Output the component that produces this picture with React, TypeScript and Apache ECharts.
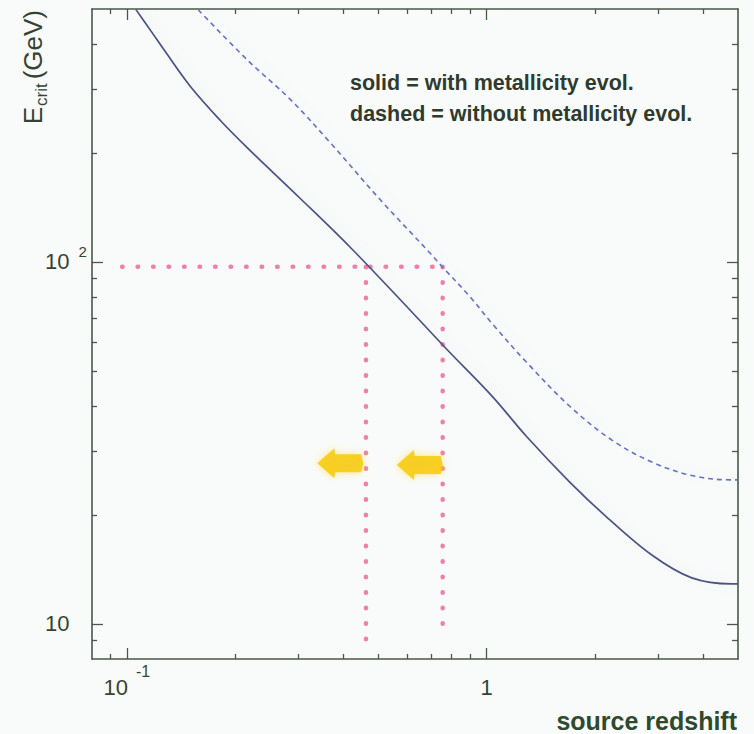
import React, { useEffect, useRef } from "react";
import * as echarts from "echarts";

// Axis ranges (log-log)
const X_MIN = 0.08;
const X_MAX = 5;
const Y_MIN = 8;
const Y_MAX = 500;

// Tick positions
const xMajorTicks = [0.1, 1];
const xMinorTicks = [0.09, 0.2, 0.3, 0.4, 0.5, 0.6, 0.7, 0.8, 0.9, 2, 3, 4];
const yMajorTicks = [10, 100];
const yMinorTicks = [9, 20, 30, 40, 50, 60, 70, 80, 90, 200, 300, 400];

// Critical energy vs source redshift, with metallicity evolution (solid)
const redshiftWith = [0.106, 0.117, 0.127, 0.15, 0.182, 0.216, 0.303, 0.417, 0.574, 0.775, 1.04, 1.29, 1.7, 2.15, 2.88, 3.72, 4.8, 5.0];
const ecritWith = [498, 433, 385, 306, 246, 207, 150, 110, 78.9, 57.4, 42.4, 33, 24.7, 19.8, 15.5, 13.4, 12.9, 12.9];

// Without metallicity evolution (dashed)
const redshiftWithout = [0.158, 0.216, 0.285, 0.367, 0.505, 0.695, 0.755, 0.897, 1.04, 1.29, 1.7, 2.23, 2.88, 3.72, 4.8, 5.0];
const ecritWithout = [497, 362, 281, 214, 149, 106, 96.7, 80.4, 67.3, 52.9, 40.0, 32.2, 28.0, 25.7, 25.0, 25.0];

// Dotted guide lines at E_crit ~ 100 GeV
const guideLevel = 97;
const guideStartZ = 0.097;
const guideZ = [0.462, 0.755];
const guideBottom = [8.65, 9.2];

// Arrow markers
const arrowZ = [0.392, 0.652];
const arrowE = [27.8, 27.5];

const FRAME = "#4a584a";
const TEXT = "#344434";
const FONT = "'Liberation Sans', Arial, Helvetica, sans-serif";

const zip = (xs: number[], ys: number[]) => xs.map((x, i) => [x, ys[i]]);

function xAxisDef(position: "top" | "bottom", ticks: number[], len: number, line: boolean, labels: boolean) {
  return {
    type: "log",
    logBase: 10,
    position,
    min: X_MIN,
    max: X_MAX,
    axisLine: { show: line, onZero: false, lineStyle: { color: FRAME, width: 1.6 } },
    axisTick: { show: true, inside: true, length: len, customValues: ticks, lineStyle: { color: FRAME, width: 1.3 } },
    axisLabel: labels
      ? {
          show: true,
          customValues: ticks,
          margin: 4,
          color: TEXT,
          fontFamily: FONT,
          formatter: (v: number) => {
            const p = Math.round(Math.log10(v));
            return p === 0 ? "{b|1}" : `{b|10}{sup|${p}}`;
          },
          rich: {
            b: { fontSize: 22, lineHeight: 22, padding: [27, 0, 0, 0], color: TEXT, fontFamily: FONT },
            sup: { fontSize: 16, lineHeight: 16, verticalAlign: "top", padding: [0, 0, 0, 8], color: TEXT, fontFamily: FONT },
          },
        }
      : { show: false },
    splitLine: { show: false },
    minorTick: { show: false },
  };
}

function yAxisDef(position: "left" | "right", ticks: number[], len: number, line: boolean, labels: boolean) {
  return {
    type: "log",
    logBase: 10,
    position,
    min: Y_MIN,
    max: Y_MAX,
    axisLine: { show: line, onZero: false, lineStyle: { color: FRAME, width: 1.6 } },
    axisTick: { show: true, inside: true, length: len, customValues: ticks, lineStyle: { color: FRAME, width: 1.3 } },
    axisLabel: labels
      ? {
          show: true,
          customValues: ticks,
          margin: 47,
          align: "left",
          color: TEXT,
          fontFamily: FONT,
          formatter: (v: number) => {
            const p = Math.round(Math.log10(v));
            return p === 1 ? "{b|10}" : `{b|10}{sup|${p}}`;
          },
          rich: {
            b: { fontSize: 22, lineHeight: 36, color: TEXT, fontFamily: FONT },
            sup: { fontSize: 15, lineHeight: 15, verticalAlign: "top", padding: [0, 0, 0, 9], color: TEXT, fontFamily: FONT },
          },
        }
      : { show: false },
    splitLine: { show: false },
    minorTick: { show: false },
  };
}

export default function App() {
  const ref = useRef<HTMLDivElement>(null);

  useEffect(() => {
    if (!ref.current) return;
    document.body.style.margin = "0";
    document.body.style.background = "#f9fbfb";
    const chart = echarts.init(ref.current, undefined, { renderer: "svg" });

    const dotted = {
      color: "rgba(238, 98, 150, 0.8)",
      width: 4.5,
      type: [0.5, 15],
      cap: "round",
    };

    chart.setOption({
      animation: false,
      backgroundColor: "#f9fbfb",
      grid: { left: 92, top: 9, width: 646, height: 650, containLabel: false, outerBoundsMode: "none" },
      xAxis: [
        xAxisDef("bottom", xMajorTicks, 11, true, true),
        xAxisDef("bottom", xMinorTicks, 5, false, false),
        xAxisDef("top", xMajorTicks, 11, true, false),
        xAxisDef("top", xMinorTicks, 5, false, false),
      ],
      yAxis: [
        yAxisDef("left", yMajorTicks, 11, true, true),
        yAxisDef("left", yMinorTicks, 5, false, false),
        yAxisDef("right", yMajorTicks, 11, true, false),
        yAxisDef("right", yMinorTicks, 6, false, false),
      ],
      series: [
        {
          name: "guide-h",
          type: "line",
          data: [[guideStartZ, guideLevel], [guideZ[1], guideLevel]],
          showSymbol: false,
          lineStyle: dotted,
          z: 1,
        },
        ...guideZ.map((z, i) => ({
          name: `guide-v${i}`,
          type: "line",
          data: [[z, guideLevel], [z, guideBottom[i]]],
          showSymbol: false,
          lineStyle: dotted,
          z: 1,
        })),
        {
          name: "solid = with metallicity evol.",
          type: "line",
          data: zip(redshiftWith, ecritWith),
          smooth: 0.35,
          showSymbol: false,
          lineStyle: {
            color: "#4c5282",
            width: 1.7,
            shadowColor: "rgba(120, 130, 160, 0.14)",
            shadowBlur: 10,
            shadowOffsetX: 7,
          },
          z: 3,
        },
        {
          name: "dashed = without metallicity evol.",
          type: "line",
          data: zip(redshiftWithout, ecritWithout),
          smooth: 0.35,
          showSymbol: false,
          lineStyle: {
            color: "#6670c4",
            width: 1.6,
            type: [5, 4],
            shadowColor: "rgba(120, 130, 160, 0.12)",
            shadowBlur: 10,
            shadowOffsetX: 7,
          },
          z: 3,
        },
        {
          name: "arrows",
          type: "scatter",
          data: zip(arrowZ, arrowE),
          symbol: "path://M0,15 L17,0 L18,6 L44,6 L46,15 L44,24 L18,24 L17,30 Z",
          symbolSize: [46, 30],
          itemStyle: {
            color: "#f6c800",
            shadowColor: "rgba(255, 215, 40, 0.7)",
            shadowBlur: 8,
          },
          z: 4,
        },
      ],
      graphic: [
        {
          type: "text",
          x: 350,
          y: 83,
          style: {
            text: "solid = with metallicity evol.",
            font: `bold 21.5px ${FONT}`,
            fill: "#2e3b2e",
            align: "left",
            verticalAlign: "middle",
          },
        },
        {
          type: "text",
          x: 350,
          y: 114,
          style: {
            text: "dashed = without metallicity evol.",
            font: `bold 21.5px ${FONT}`,
            fill: "#2e3b2e",
            align: "left",
            verticalAlign: "middle",
          },
        },
        {
          type: "text",
          x: 737,
          y: 721,
          style: {
            text: "source redshift",
            font: `bold 25px ${FONT}`,
            fill: "#2e4a2e",
            align: "right",
            verticalAlign: "middle",
          },
        },
        {
          type: "text",
          x: 36.5,
          y: 10,
          rotation: Math.PI / 2,
          style: {
            text: "{e|E}{s|crit}{e|(GeV)}",
            align: "right",
            verticalAlign: "middle",
            fill: TEXT,
            rich: {
              e: { fontSize: 26, lineHeight: 26, padding: [0, 0, 8, 0], fontFamily: FONT, fill: TEXT },
              s: { fontSize: 17, lineHeight: 17, verticalAlign: "bottom", padding: [0, 4, 0, 1], fontFamily: FONT, fill: TEXT },
            },
          },
        },
      ],
    });

    return () => chart.dispose();
  }, []);

  return (
    <div
      ref={ref}
      style={{ position: "absolute", left: 0, top: 0, width: 754, height: 734 }}
    />
  );
}
